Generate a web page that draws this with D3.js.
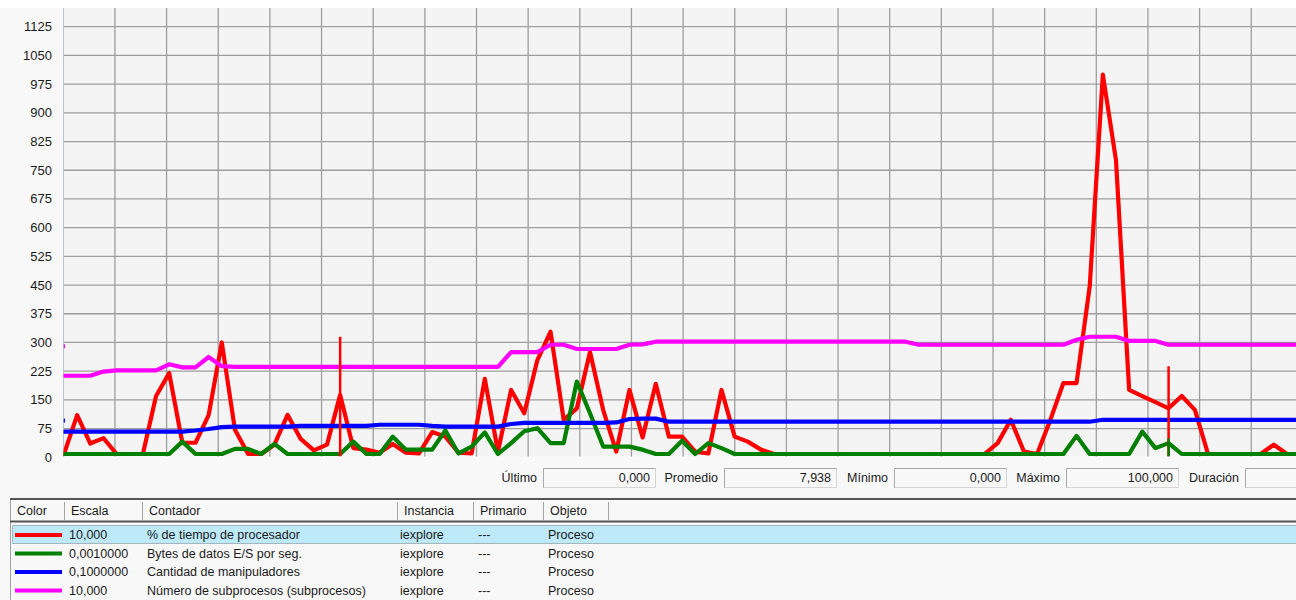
<!DOCTYPE html>
<html>
<head>
<meta charset="utf-8">
<script src="https://cdn.jsdelivr.net/npm/d3@7"></script>
<style>
    body { margin: 0; background: #ffffff; }
    svg text { font-family: "Liberation Sans", Arial, sans-serif; fill: #1a1a1a; }
</style>
</head>
<body>
<div id="perfmon"></div>
<script>
// y axis labels
const yTicks = [0, 75, 150, 225, 300, 375, 450, 525, 600, 675, 750, 825, 900, 975, 1050, 1125];

// samples (one per second), values already multiplied by each counter's scale
const cpuTime = [5,110,36,50,0,0,0,160,220,38, 38,110,300,72,5,5,33,111,48,18,
    33,163,24,20,12,35,12,10,66,54, 12,10,205,15,176,115,254,328,98,128,
    275,124,15,176,52,192,54,54,15,10, 176,54,41,20,0,0,0,0,0,0,
    0,0,0,0,0,0,0,0,0,0, 5,37,98,15,0,97,194,194,446,1000,
    776,176,160,144,128,160,124,0,0,0, 0,0,33,0,0];
const ioBytes = [0,0,0,0,0,0,0,0,0,41, 0,0,0,22,22,0,35,0,0,0,
    0,0,41,0,0,54,20,20,20,70, 10,28,65,8,37,68,76,37,37,198,
    115,28,28,28,20,5,5,43,5,37, 24,0,0,0,0,0,0,0,0,0,
    0,0,0,0,0,0,0,0,0,0, 0,0,0,0,0,0,0,56,0,0,
    0,0,67,24,37,0,0,0,0,0, 0,0,0,0,0];
const handles = [67,67,67,67,67,67,67,67,67,67, 70,74,79,80,80,80,80,80,82,82,
    82,82,82,82,85,85,85,85,82,80, 80,80,80,80,87,90,90,90,90,90,
    90,90,91,100,101,101,93,93,93,93, 93,93,93,93,93,93,93,93,93,93,
    93,93,93,93,93,93,93,93,93,93, 93,93,93,93,93,93,93,93,93,98,
    98,98,98,98,98,98,98,98,98,98, 98,98,98,98,98];
const threads = [213,213,213,224,227,227,227,227,243,235, 235,262,238,236,236,236,236,236,236,236,
    236,236,236,236,236,236,236,236,236,236, 236,236,236,236,275,275,275,294,294,283,
    283,283,283,294,295,302,302,302,302,302, 302,302,302,302,302,302,302,302,302,302,
    302,302,302,302,302,294,294,294,294,294, 294,294,294,294,294,294,294,307,315,315,
    315,304,304,304,294,294,294,294,294,294, 294,294,294,294,294];

// thin vertical marks (time bar / single sample spikes)
const spikeSample = [21, 84, 84];
const spikeValue = [315, 238, 50];
const spikeSeries = [0, 0, 1];

// leftover pixel of the previous pass at the left edge
const tailSeries = [2, 3];
const tailValue = [96, 290];

// legend table
const seriesColors = ['#ff0000', '#008000', '#0000ff', '#ff00ff'];
const seriesScales = ['10,000', '0,0010000', '0,1000000', '10,000'];
const seriesNames = ['% de tiempo de procesador', 'Bytes de datos E/S por seg.', 'Cantidad de manipuladores', 'Número de subprocesos (subprocesos)'];
const seriesInstance = ['iexplore', 'iexplore', 'iexplore', 'iexplore'];
const seriesParent = ['---', '---', '---', '---'];
const seriesObject = ['Proceso', 'Proceso', 'Proceso', 'Proceso'];
const columnNames = ['Color', 'Escala', 'Contador', 'Instancia', 'Primario', 'Objeto'];

// value bar
const statLabels = ['Último', 'Promedio', 'Mínimo', 'Máximo', 'Duración'];
const statValues = ['0,000', '7,938', '0,000', '100,000', ''];


class PerfChart {

    constructor(parentElement, series) {
        this.parentElement = parentElement;
        this.series = series;
        this.initVis();
    }

    initVis() {
        let vis = this;

        vis.width = 1296;
        vis.height = 600;
        vis.plot = {left: 63.5, top: 8, right: 1296, bottom: 456.5};

        vis.svg = d3.select('#' + vis.parentElement).append('svg')
            .attr('width', vis.width)
            .attr('height', vis.height);

        // window background
        vis.svg.append('rect')
            .attr('x', 0).attr('y', 8)
            .attr('width', vis.width).attr('height', vis.height - 8)
            .attr('fill', '#f8f8f8');

        vis.svg.append('rect')
            .attr('x', vis.plot.left).attr('y', vis.plot.top)
            .attr('width', vis.plot.right - vis.plot.left)
            .attr('height', vis.plot.bottom - vis.plot.top)
            .attr('fill', '#f4f4f4');

        vis.svg.append('clipPath').attr('id', 'plotClip')
            .append('rect')
            .attr('x', vis.plot.left).attr('y', vis.plot.top)
            .attr('width', vis.plot.right - vis.plot.left)
            .attr('height', vis.plot.bottom - vis.plot.top);

        vis.x = d3.scaleLinear().domain([0, 99]).range([64, 64 + 99 * 13.15]);
        vis.y = d3.scaleLinear().domain([0, 1125]).range([457.3, 26.7]);
        // vertical grid divisions are independent of the samples
        vis.gridX = d3.scaleLinear().domain([0, 24]).range([63.3, 63.3 + 24 * 51.65]);

        vis.gridGroup = vis.svg.append('g').attr('class', 'grid');
        vis.lineGroup = vis.svg.append('g').attr('clip-path', 'url(#plotClip)');
        vis.axisGroup = vis.svg.append('g').attr('class', 'axis y-axis');
        vis.statGroup = vis.svg.append('g').attr('class', 'stats');
        vis.tableGroup = vis.svg.append('g').attr('class', 'legend-table');

        vis.updateVis();
    }

    updateVis() {
        let vis = this;

        // grid
        vis.gridGroup.selectAll('.hgrid')
            .data(yTicks.filter(d => d > 0))
            .enter().append('line')
            .attr('class', 'hgrid')
            .attr('x1', vis.plot.left).attr('x2', vis.plot.right)
            .attr('y1', d => vis.y(d)).attr('y2', d => vis.y(d))
            .attr('stroke', '#9e9e9e')
            .attr('stroke-width', 1.3);

        vis.gridGroup.selectAll('.vgrid')
            .data(d3.range(1, 25))
            .enter().append('line')
            .attr('class', 'vgrid')
            .attr('x1', d => vis.gridX(d)).attr('x2', d => vis.gridX(d))
            .attr('y1', vis.plot.top).attr('y2', vis.plot.bottom)
            .attr('stroke', '#9e9e9e')
            .attr('stroke-width', 1.3);

        vis.gridGroup.append('line')
            .attr('x1', vis.plot.left).attr('x2', vis.plot.left)
            .attr('y1', vis.plot.top).attr('y2', vis.plot.bottom)
            .attr('stroke', '#b8c6d6')
            .attr('stroke-width', 1);

        // axis labels
        vis.axisGroup.selectAll('text')
            .data(yTicks)
            .enter().append('text')
            .attr('x', 52)
            .attr('y', d => vis.y(d))
            .attr('text-anchor', 'end')
            .attr('dominant-baseline', 'central')
            .style('font-size', '13px')
            .text(d => d);

        // pen stays inside the frame at zero
        let line = d3.line()
            .x((d, i) => vis.x(i))
            .y(d => Math.min(vis.y(d), vis.plot.bottom - 2.5));

        vis.lineGroup.selectAll('.series')
            .data(vis.series)
            .enter().append('path')
            .attr('class', 'series')
            .attr('d', d => line(d))
            .attr('fill', 'none')
            .attr('stroke', (d, i) => seriesColors[i])
            .attr('stroke-width', 4.2)
            .attr('stroke-linejoin', 'round')
            .attr('stroke-linecap', 'round');

        vis.lineGroup.selectAll('.tail')
            .data(tailValue)
            .enter().append('rect')
            .attr('class', 'tail')
            .attr('x', vis.plot.left)
            .attr('y', d => vis.y(d) - 2)
            .attr('width', 1.5).attr('height', 4)
            .attr('fill', (d, i) => seriesColors[tailSeries[i]]);

        vis.lineGroup.selectAll('.spike')
            .data(spikeSample)
            .enter().append('line')
            .attr('class', 'spike')
            .attr('x1', d => vis.x(d)).attr('x2', d => vis.x(d))
            .attr('y1', vis.plot.bottom)
            .attr('y2', (d, i) => vis.y(spikeValue[i]))
            .attr('stroke', (d, i) => seriesColors[spikeSeries[i]])
            .attr('stroke-width', 2.5);

        vis.drawStats();
        vis.drawTable();
    }

    drawStats() {
        let vis = this;
        let boxLeft = [543, 724, 894, 1066, 1245];
        let boxW = 112, cy = 478;

        let g = vis.statGroup.selectAll('.stat')
            .data(statLabels)
            .enter().append('g')
            .attr('class', 'stat')
            .attr('transform', (d, i) => `translate(${boxLeft[i]}, 0)`);

        g.append('text')
            .attr('x', -6).attr('y', cy)
            .attr('text-anchor', 'end')
            .attr('dominant-baseline', 'central')
            .style('font-size', '12.5px')
            .text(d => d);

        g.append('rect')
            .attr('x', 0.5).attr('y', cy - 9.5)
            .attr('width', boxW).attr('height', 19)
            .attr('fill', '#f8f8f8')
            .attr('stroke', '#d6d6d6');

        g.append('path')
            .attr('d', `M0.5,${cy + 9.5}V${cy - 9.5}H${boxW + 0.5}`)
            .attr('fill', 'none')
            .attr('stroke', '#a8a8a8');

        g.append('text')
            .attr('x', boxW - 5).attr('y', cy)
            .attr('text-anchor', 'end')
            .attr('dominant-baseline', 'central')
            .style('font-size', '12.5px')
            .text((d, i) => statValues[i]);
    }

    drawTable() {
        let vis = this;
        let colX = [10, 64, 142, 397, 473, 543, 608];
        let rowY = [535, 553.5, 572, 590.5];
        let g = vis.tableGroup;

        g.append('line')
            .attr('x1', 10.5).attr('x2', 10.5).attr('y1', 498).attr('y2', 600)
            .attr('stroke', '#a0a0a0');

        g.append('line')
            .attr('x1', 10).attr('x2', vis.width).attr('y1', 499).attr('y2', 499)
            .attr('stroke', '#555').attr('stroke-width', 2);

        g.append('line')
            .attr('x1', 10).attr('x2', vis.width).attr('y1', 521.5).attr('y2', 521.5)
            .attr('stroke', '#555').attr('stroke-width', 2);

        g.selectAll('.col-sep')
            .data(colX.slice(1))
            .enter().append('line')
            .attr('class', 'col-sep')
            .attr('x1', d => d + 0.5).attr('x2', d => d + 0.5)
            .attr('y1', 502).attr('y2', 520)
            .attr('stroke', '#a6a6a6');

        g.selectAll('.col-name')
            .data(columnNames)
            .enter().append('text')
            .attr('class', 'col-name')
            .attr('x', (d, i) => colX[i] + 7)
            .attr('y', 511)
            .attr('dominant-baseline', 'central')
            .style('font-size', '12.5px')
            .text(d => d);

        // selected row
        g.append('rect')
            .attr('x', 12.5).attr('y', 525.5)
            .attr('width', vis.width).attr('height', 18)
            .attr('fill', '#bde9f9')
            .attr('stroke', '#6b7b82')
            .attr('stroke-dasharray', '1,1');

        let rows = g.selectAll('.row')
            .data(seriesNames)
            .enter().append('g')
            .attr('class', 'row')
            .attr('transform', (d, i) => `translate(0, ${rowY[i]})`);

        rows.append('line')
            .attr('x1', 15).attr('x2', 62).attr('y1', 0).attr('y2', 0)
            .attr('stroke', (d, i) => seriesColors[i])
            .attr('stroke-width', 4);

        let cells = [seriesScales, seriesNames, seriesInstance, seriesParent, seriesObject];
        cells.forEach((col, c) => {
            rows.append('text')
                .attr('x', [69, 147, 400, 478, 548][c])
                .attr('y', 0)
                .attr('dominant-baseline', 'central')
                .style('font-size', '12.5px')
                .text((d, i) => col[i]);
        });
    }
}

new PerfChart('perfmon', [cpuTime, ioBytes, handles, threads]);
</script>
</body>
</html>
